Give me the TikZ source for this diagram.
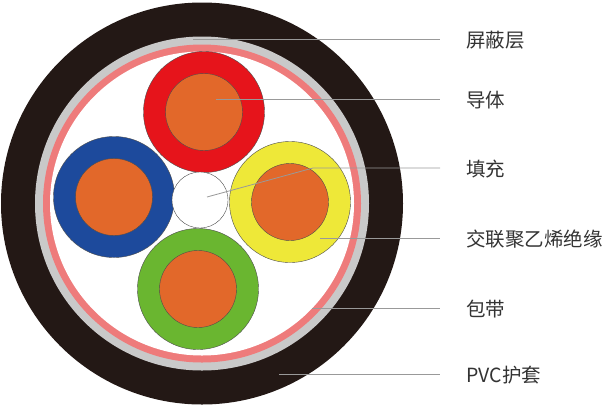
\documentclass[tikz,border=0pt]{standalone}
\usepackage{fontspec}
\setmainfont{Noto Sans CJK SC}
\begin{document}
\begin{tikzpicture}[x=1pt,y=-1pt,
  lead/.style={draw=gray!80,line width=0.8pt},
  lbl/.style={anchor=west,font=\fontsize{19.5}{21}\selectfont,text=black!80,inner sep=0pt},
  edge/.style={draw=black!70,line width=0.4pt}]
\useasboundingbox (0,0) rectangle (612,405);
\definecolor{cblack}{HTML}{231815}
\definecolor{cgray}{HTML}{C9C9C9}
\definecolor{cpink}{HTML}{EE7B7B}
\definecolor{cred}{HTML}{E6141B}
\definecolor{cblue}{HTML}{1D4A9C}
\definecolor{cyellow}{HTML}{EEE838}
\definecolor{cgreen}{HTML}{6AB630}
\definecolor{corange}{HTML}{E2682A}
\fill[cblack] (202,203.5) circle (201);
\fill[cgray] (202,203.5) circle (167);
\fill[cpink] (202,203.5) circle (159);
\fill[white] (202,203.5) circle (152);
\foreach \c/\col in {{(204,112)}/cred,{(114,197)}/cblue,{(290,202)}/cyellow,{(198,289)}/cgreen}{
  \filldraw[fill=\col,edge] \c circle (60.5);
  \filldraw[fill=corange,edge] \c circle (38.5);
}
\filldraw[fill=white,edge] (200,200) circle (28);
\coordinate (p1) at (193,39); \coordinate (q1) at (440,39);
\coordinate (p2) at (216,99); \coordinate (q2) at (440,99);
\coordinate (p3) at (207,197); \coordinate (m3) at (313,168); \coordinate (q3) at (440,168);
\coordinate (p4) at (320,238); \coordinate (q4) at (440,238);
\coordinate (p5) at (312,308); \coordinate (q5) at (440,308);
\coordinate (p6) at (279,374); \coordinate (q6) at (440,374);
\draw[lead] (p1)--(q1); \draw[lead] (p2)--(q2);
\draw[lead] (p3)--(m3)--(q3); \draw[lead] (p4)--(q4);
\draw[lead] (p5)--(q5); \draw[lead] (p6)--(q6);
\node[lbl] (t1) at (466,40) {屏蔽层};
\node[lbl] (t2) at (466,100) {导体};
\node[lbl] (t3) at (466,169) {填充};
\node[lbl] (t4) at (466,239) {交联聚乙烯绝缘};
\node[lbl] (t5) at (466,309) {包带};
\node[lbl] (t6) at (466,375) {PVC护套};
\end{tikzpicture}
\end{document}
